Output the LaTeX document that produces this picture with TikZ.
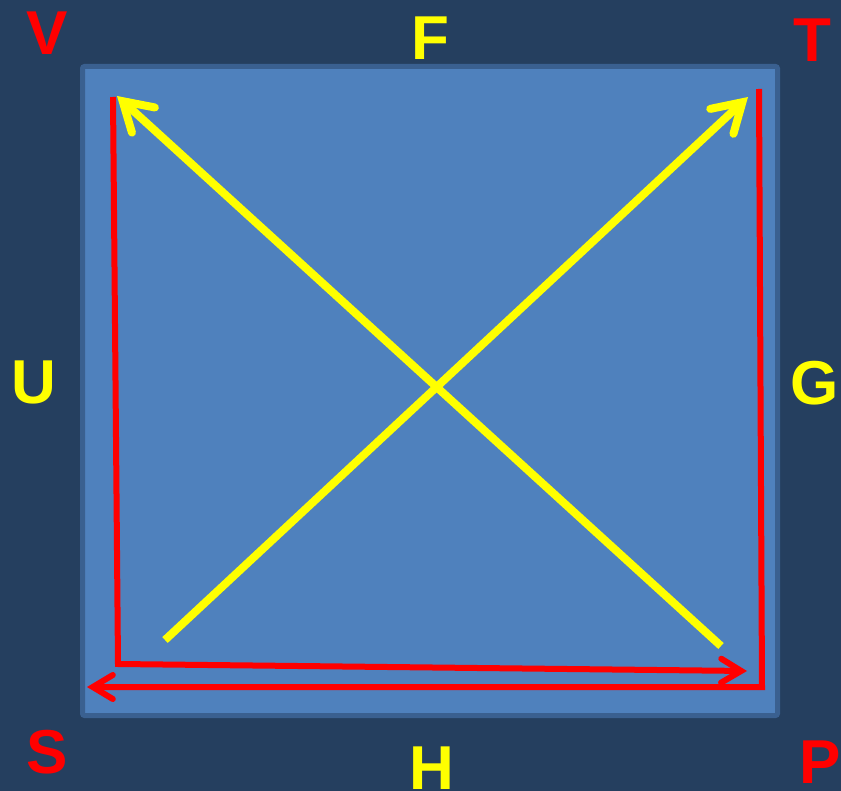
\documentclass[tikz,border=0pt]{standalone}
\usepackage{fontspec}
\setmainfont{Liberation Sans}
\usetikzlibrary{arrows.meta}
\definecolor{bgnavy}{HTML}{253F5F}
\definecolor{boxfill}{HTML}{4F81BD}
\definecolor{boxedge}{HTML}{3A6090}
\definecolor{lblred}{HTML}{FF0000}
\definecolor{lblyel}{HTML}{FFFF00}
\tikzset{
  lbl/.style={font=\fontsize{62}{62}\selectfont\bfseries, inner sep=0pt},
  redlbl/.style={lbl, text=lblred},
  yellbl/.style={lbl, text=lblyel},
  redpath/.style={draw=lblred, line width=6pt, -{Straight Barb[length=20pt,width=24pt,line cap=round]}},
  yelpath/.style={draw=lblyel, line width=8pt, -{Straight Barb[length=28pt,width=34pt,line cap=round]}}
}
\begin{document}
\begin{tikzpicture}[x=1pt,y=-1pt]
\useasboundingbox (0,0) rectangle (841,791);
\fill[bgnavy] (0,0) rectangle (841,791);
\draw[fill=boxfill, draw=boxedge, line width=5pt, rounded corners=2pt] (82.5,66.5) rectangle (777.5,715.5);
% labels
\node[redlbl] (V) at (47,33) {V};
\node[yellbl] (F) at (430,38) {F};
\node[redlbl] (T) at (812,40) {T};
\node[yellbl] (U) at (34,382) {U};
\node[yellbl] (G) at (815,383) {G};
\node[redlbl] (S) at (47,752) {S};
\node[yellbl] (H) at (432,768) {H};
\node[redlbl] (P) at (820,762) {P};
% coordinates
\coordinate (r1a) at (113,97);
\coordinate (r1b) at (118,664);
\coordinate (r1c) at (747,671);
\coordinate (r2a) at (759,89);
\coordinate (r2b) at (762,687);
\coordinate (r2c) at (87,687);
\coordinate (y1a) at (721,646);
\coordinate (y1b) at (117,96);
\coordinate (y2a) at (165,640);
\coordinate (y2b) at (748,97);
% red paths
\draw[redpath] (r1a) -- (r1b) -- (r1c);
\draw[redpath] (r2a) -- (r2b) -- (r2c);
% yellow arrows
\draw[yelpath] (y1a) -- (y1b);
\draw[yelpath] (y2a) -- (y2b);
\end{tikzpicture}
\end{document}
